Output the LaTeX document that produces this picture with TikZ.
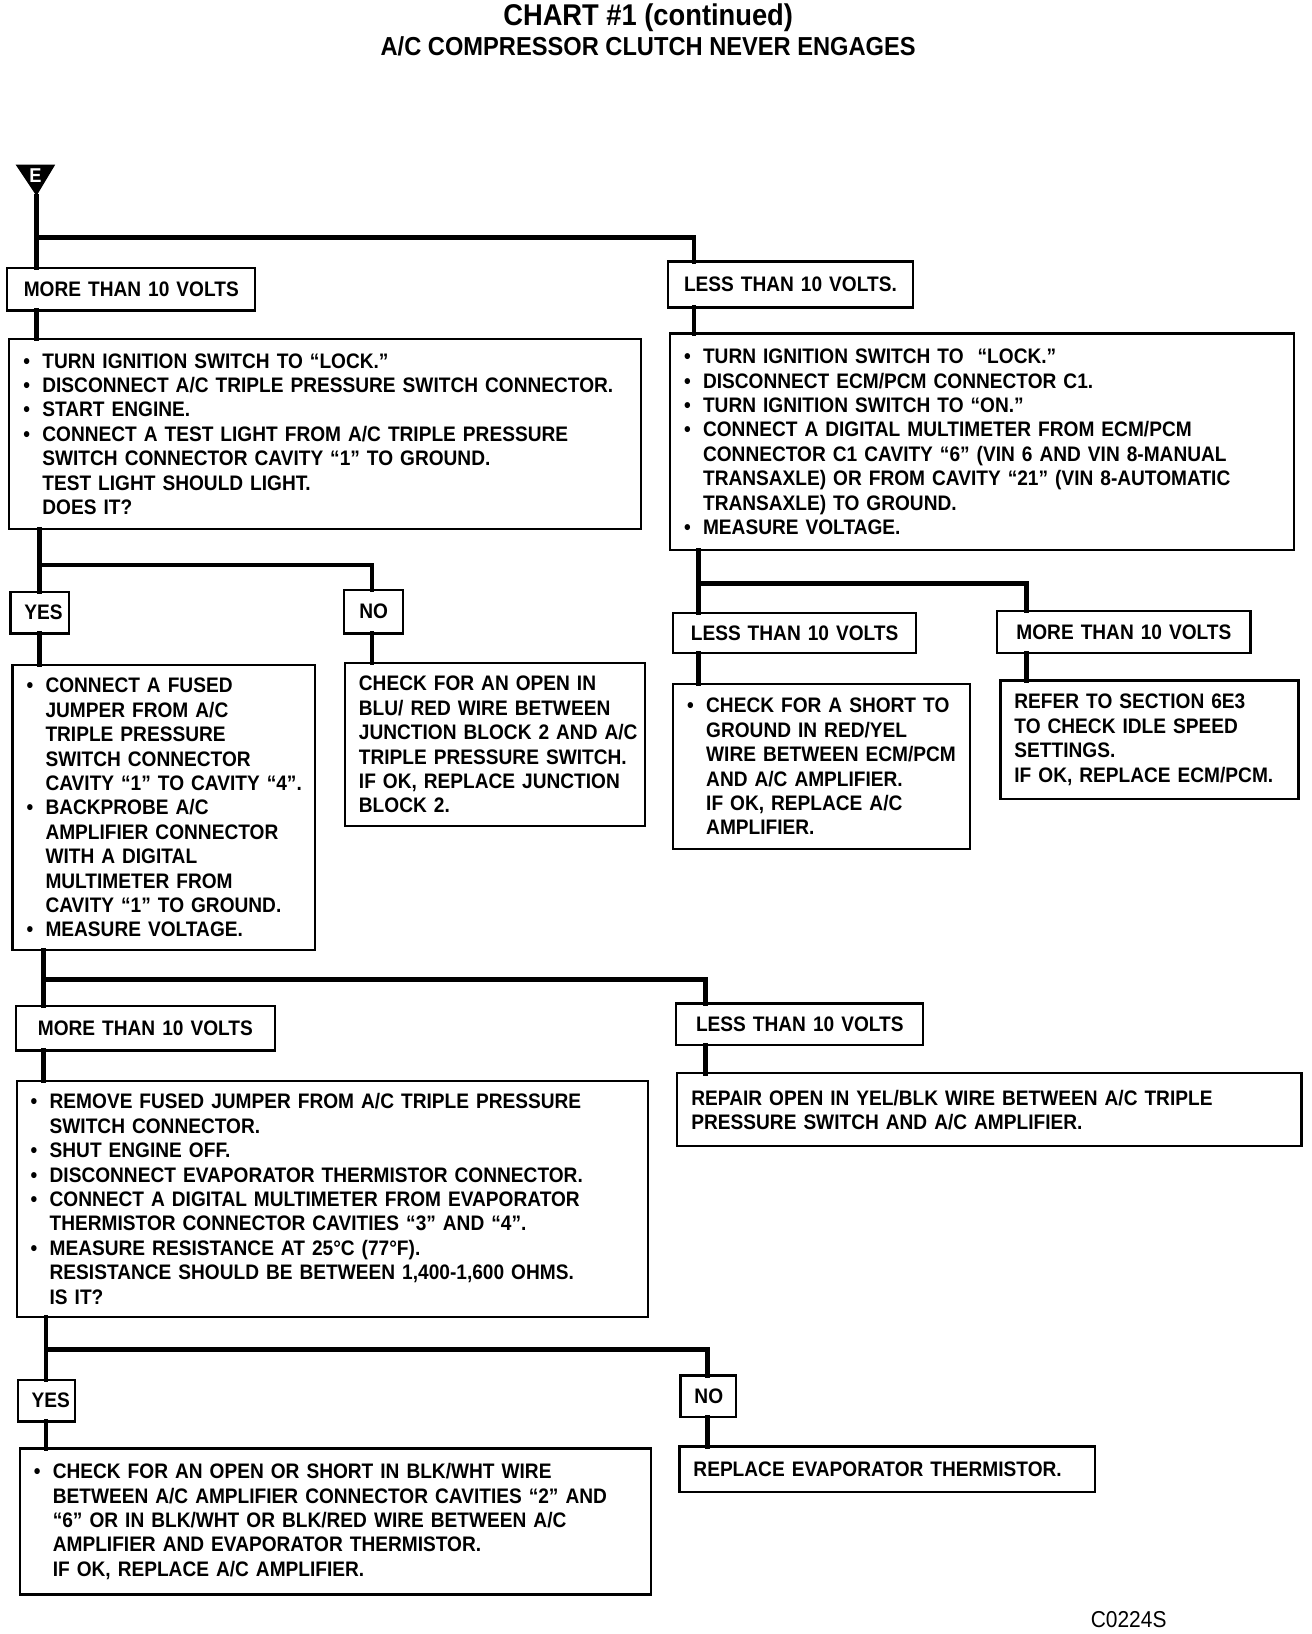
\documentclass[tikz,border=0pt]{standalone}
\usepackage{fontspec}
\setmainfont{Liberation Sans}[FakeStretch=0.91]
\usetikzlibrary{positioning, calc}

\newlength{\bind}
\setlength{\bind}{9.5pt}
\newcommand{\bitem}[1]{\mbox{\makebox[\bind][l]{\textbullet}#1}}
\newcommand{\bcont}[1]{\mbox{\hspace*{\bind}#1}}

\tikzset{
  box/.style={draw, line width=1.1pt, inner xsep=7pt, inner ysep=0pt, outer sep=0pt,
    align=left, font=\fontsize{10.5}{12.2}\selectfont\bfseries},
  tag/.style={box, align=center, inner xsep=3pt},
  conn/.style={line width=2.3pt, line cap=rect},
}

\begin{document}
\begin{tikzpicture}[x=0.521pt,y=-0.521pt]
\useasboundingbox (0,0) rectangle (1259,1568);
\newcommand{\chartbox}[7][box]{%
  \pgfmathsetlengthmacro{\boxw}{(#5-#3)*0.521}%
  \pgfmathsetlengthmacro{\boxh}{(#6-#4)*0.521}%
  \pgfmathsetlengthmacro{\textw}{(#5-#3)*0.521-14}%
  \node[#1, minimum width=\boxw, minimum height=\boxh, text width=\textw] (#2) at ({(#3+#5)/2},{(#4+#6)/2}) {#7};
}

% title
\node[font=\fontsize{15}{18}\selectfont\bfseries] (title) at (622,17) {CHART \#1 (continued)};
\node[font=\fontsize{13}{15}\selectfont\bfseries] (subtitle) at (622,44) {A/C COMPRESSOR CLUTCH NEVER ENGAGES};

% entry point
\fill (15,158) -- (53,158) -- (35,188) -- cycle;
\node[text=white, font=\fontsize{10}{11}\selectfont\bfseries, inner sep=0pt] (entry) at (34,169) {E};
\coordinate (apex) at (35,188);

% first level
\chartbox[tag]{moreA}{7}{257}{245}{298}{\mbox{MORE THAN 10 VOLTS}}
\chartbox{stepB}{9}{325}{615}{508}{%
\bitem{TURN IGNITION SWITCH TO “LOCK.”}\\
\bitem{DISCONNECT A/C TRIPLE PRESSURE SWITCH CONNECTOR.}\\
\bitem{START ENGINE.}\\
\bitem{CONNECT A TEST LIGHT FROM A/C TRIPLE PRESSURE}\\
\bcont{SWITCH CONNECTOR CAVITY “1” TO GROUND.}\\
\bcont{TEST LIGHT SHOULD LIGHT.}\\
\bcont{DOES IT?}}
\chartbox[tag]{lessC}{641}{251}{876}{295}{\mbox{LESS THAN 10 VOLTS.}}
\chartbox{stepD}{643}{320}{1242}{528}{%
\bitem{TURN IGNITION SWITCH TO \ “LOCK.”}\\
\bitem{DISCONNECT ECM/PCM CONNECTOR C1.}\\
\bitem{TURN IGNITION SWITCH TO “ON.”}\\
\bitem{CONNECT A DIGITAL MULTIMETER FROM ECM/PCM}\\
\bcont{CONNECTOR C1 CAVITY “6” (VIN 6 AND VIN 8-MANUAL}\\
\bcont{TRANSAXLE) OR FROM CAVITY “21” (VIN 8-AUTOMATIC}\\
\bcont{TRANSAXLE) TO GROUND.}\\
\bitem{MEASURE VOLTAGE.}}

% right branch
\chartbox[tag]{lessE}{646}{588}{879}{627}{\mbox{LESS THAN 10 VOLTS}}
\chartbox[tag]{moreE}{957}{586}{1200}{627}{\mbox{MORE THAN 10 VOLTS}}
\chartbox{stepF}{646}{656}{931}{815}{%
\bitem{CHECK FOR A SHORT TO}\\
\bcont{GROUND IN RED/YEL}\\
\bcont{WIRE BETWEEN ECM/PCM}\\
\bcont{AND A/C AMPLIFIER.}\\
\bcont{IF OK, REPLACE A/C}\\
\bcont{AMPLIFIER.}}
\chartbox{referF}{960}{653}{1246}{767}{%
\mbox{REFER TO SECTION 6E3}\\
\mbox{TO CHECK IDLE SPEED}\\
\mbox{SETTINGS.}\\
\mbox{IF OK, REPLACE ECM/PCM.}}

% left branch
\chartbox[tag]{yesG}{10}{568}{66}{608}{\mbox{YES}}
\chartbox[tag]{noH}{330}{566}{387}{608}{\mbox{NO}}
\chartbox{stepG}{12}{638}{302}{912}{%
\bitem{CONNECT A FUSED}\\
\bcont{JUMPER FROM A/C}\\
\bcont{TRIPLE PRESSURE}\\
\bcont{SWITCH CONNECTOR}\\
\bcont{CAVITY “1” TO CAVITY “4”.}\\
\bitem{BACKPROBE A/C}\\
\bcont{AMPLIFIER CONNECTOR}\\
\bcont{WITH A DIGITAL}\\
\bcont{MULTIMETER FROM}\\
\bcont{CAVITY “1” TO GROUND.}\\
\bitem{MEASURE VOLTAGE.}}
\chartbox{checkH}{331}{636}{619}{793}{%
\mbox{CHECK FOR AN OPEN IN}\\
\mbox{BLU/ RED WIRE BETWEEN}\\
\mbox{JUNCTION BLOCK 2 AND A/C}\\
\mbox{TRIPLE PRESSURE SWITCH.}\\
\mbox{IF OK, REPLACE JUNCTION}\\
\mbox{BLOCK 2.}}

% third level
\chartbox[tag]{moreI}{15}{965}{264}{1008}{\mbox{MORE THAN 10 VOLTS}}
\chartbox[tag]{lessI}{649}{963}{886}{1003}{\mbox{LESS THAN 10 VOLTS}}
\chartbox{stepJ}{16}{1037}{622}{1264}{%
\bitem{REMOVE FUSED JUMPER FROM A/C TRIPLE PRESSURE}\\
\bcont{SWITCH CONNECTOR.}\\
\bitem{SHUT ENGINE OFF.}\\
\bitem{DISCONNECT EVAPORATOR THERMISTOR CONNECTOR.}\\
\bitem{CONNECT A DIGITAL MULTIMETER FROM EVAPORATOR}\\
\bcont{THERMISTOR CONNECTOR CAVITIES “3” AND “4”.}\\
\bitem{MEASURE RESISTANCE AT 25°C (77°F).}\\
\bcont{RESISTANCE SHOULD BE BETWEEN 1,400-1,600 OHMS.}\\
\bcont{IS IT?}}
\chartbox{repairK}{650}{1030}{1249}{1100}{%
\mbox{REPAIR OPEN IN YEL/BLK WIRE BETWEEN A/C TRIPLE}\\
\mbox{PRESSURE SWITCH AND A/C AMPLIFIER.}}

% last level
\chartbox[tag]{yesL}{17}{1324}{72}{1364}{\mbox{YES}}
\chartbox[tag]{noL}{653}{1320}{706}{1360}{\mbox{NO}}
\chartbox{checkM}{19}{1390}{625}{1530}{%
\bitem{CHECK FOR AN OPEN OR SHORT IN BLK/WHT WIRE}\\
\bcont{BETWEEN A/C AMPLIFIER CONNECTOR CAVITIES “2” AND}\\
\bcont{“6” OR IN BLK/WHT OR BLK/RED WIRE BETWEEN A/C}\\
\bcont{AMPLIFIER AND EVAPORATOR THERMISTOR.}\\
\bcont{IF OK, REPLACE A/C AMPLIFIER.}}
\chartbox{replaceN}{652}{1388}{1051}{1432}{\mbox{REPLACE EVAPORATOR THERMISTOR.}}

\node[font=\fontsize{11.5}{13}\selectfont, anchor=west] (code) at (1040,1554) {C0224S};

% trunk and drop points
\coordinate (t1) at (35,228);  \coordinate (d1) at (666,228);
\coordinate (t2) at (38,542);  \coordinate (d2) at (357,542);
\coordinate (t3) at (670,560); \coordinate (d3) at (985,560);
\coordinate (t4) at (42,940);  \coordinate (d4) at (677,940);
\coordinate (t5) at (44,1295); \coordinate (d5) at (679,1295);

% connectors
\draw[conn] (apex) -- (moreA.north -| apex);
\draw[conn] (t1) -| (lessC.north -| d1);
\draw[conn] (moreA.south -| t1) -- (stepB.north -| t1);
\draw[conn] (lessC.south -| d1) -- (stepD.north -| d1);

\draw[conn] (stepB.south -| t2) -- (yesG.north -| t2);
\draw[conn] (t2) -| (noH.north -| d2);
\draw[conn] (yesG.south -| t2) -- (stepG.north -| t2);
\draw[conn] (noH.south -| d2) -- (checkH.north -| d2);

\draw[conn] (stepD.south -| t3) -- (lessE.north -| t3);
\draw[conn] (t3) -| (moreE.north -| d3);
\draw[conn] (lessE.south -| t3) -- (stepF.north -| t3);
\draw[conn] (moreE.south -| d3) -- (referF.north -| d3);

\draw[conn] (stepG.south -| t4) -- (moreI.north -| t4);
\draw[conn] (t4) -| (lessI.north -| d4);
\draw[conn] (moreI.south -| t4) -- (stepJ.north -| t4);
\draw[conn] (lessI.south -| d4) -- (repairK.north -| d4);

\draw[conn] (stepJ.south -| t5) -- (yesL.north -| t5);
\draw[conn] (t5) -| (noL.north -| d5);
\draw[conn] (yesL.south -| t5) -- (checkM.north -| t5);
\draw[conn] (noL.south -| d5) -- (replaceN.north -| d5);
\end{tikzpicture}
\end{document}
